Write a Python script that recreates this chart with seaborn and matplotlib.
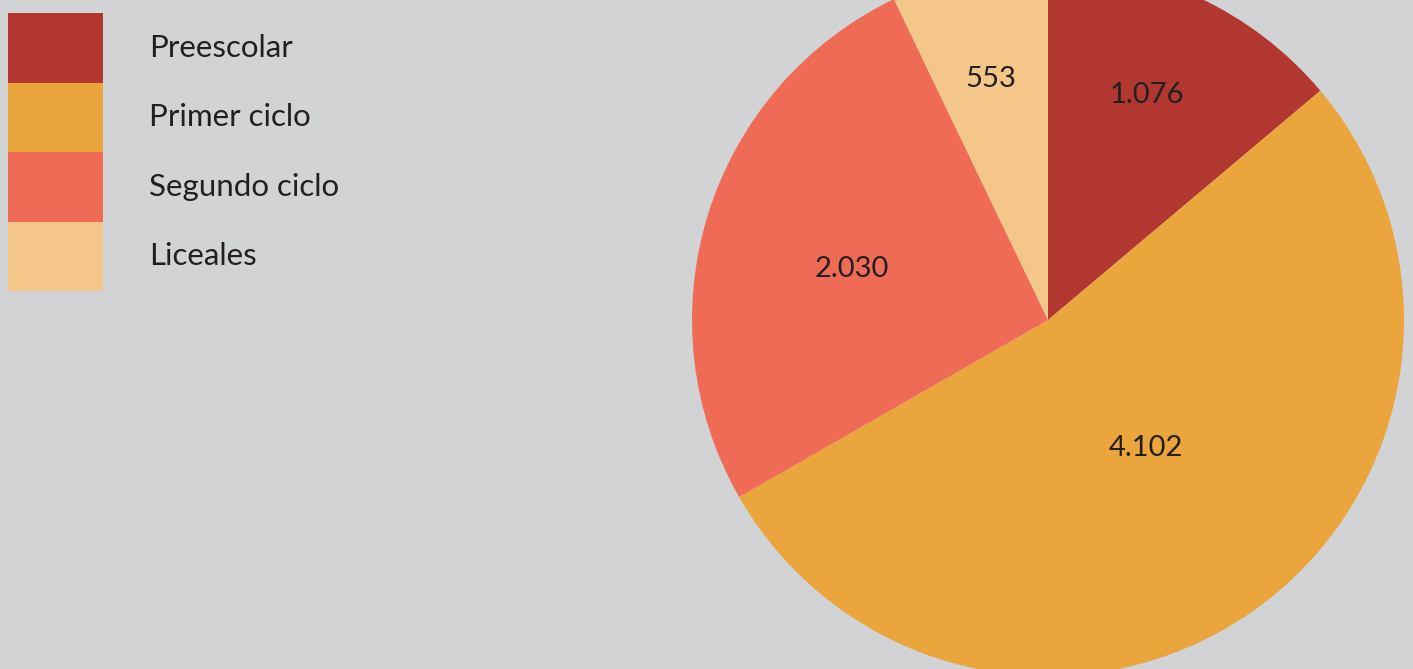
import matplotlib
matplotlib.use("Agg")
import numpy as np
import matplotlib.pyplot as plt
import seaborn as sns

# data
categories = ["Preescolar", "Primer ciclo", "Segundo ciclo", "Liceales"]
values = [1076, 4102, 2030, 553]
colors = ["#B33731", "#EAA53C", "#EF6B56", "#F4C68A"]
# where each number sits: fraction of radius, and angle nudge from wedge middle
label_dist = [0.69, 0.452, 0.569, 0.697]
label_nudge = [1.2, 2.6, 2.6, 0.5]

bg = "#D2D3D5"
txt = "#231F20"

sns.set_theme(style="white", rc={"figure.facecolor": bg, "axes.facecolor": bg})
plt.rcParams["font.family"] = ["Lato", "DejaVu Sans"]

W, H = 1413, 669
fig = plt.figure(figsize=(W / 100, H / 100), dpi=100)

# pie centred at (1048, 320) px, radius 356 px
cx, cy, r = 1048, 320, 356
ax = fig.add_axes([(cx - r) / W, (H - cy - r) / H, 2 * r / W, 2 * r / H])

wedges, _ = ax.pie(values, colors=sns.color_palette(colors),
                   startangle=90, counterclock=False, radius=1,
                   wedgeprops=dict(linewidth=0))
for w, v, d, n in zip(wedges, values, label_dist, label_nudge):
    a = np.deg2rad((w.theta1 + w.theta2) / 2 + n)
    ax.text(d * np.cos(a), d * np.sin(a), f"{v:,}".replace(",", "."),
            ha="center", va="center", fontsize=21, color=txt)

ax.set_xlim(-1, 1)
ax.set_ylim(-1, 1)
ax.set_aspect("equal")
ax.axis("off")

fs = 22.5
fpx = fs * 100 / 72
# legend row height = fs*(0.65*hh + 0.245) pt -> want 69.5 px
hh = (69.5 * 72 / 100 / fs - 0.245) / 0.65
leg = fig.legend(wedges, categories, loc="upper left",
                 bbox_to_anchor=(8 / W, 1 - 13 / H), borderaxespad=0,
                 borderpad=0, frameon=False, fontsize=fs,
                 handlelength=95 / fpx, handleheight=hh,
                 labelspacing=0, handletextpad=46 / fpx, labelcolor=txt)

fig.savefig("out.png", dpi=100, facecolor=bg)
